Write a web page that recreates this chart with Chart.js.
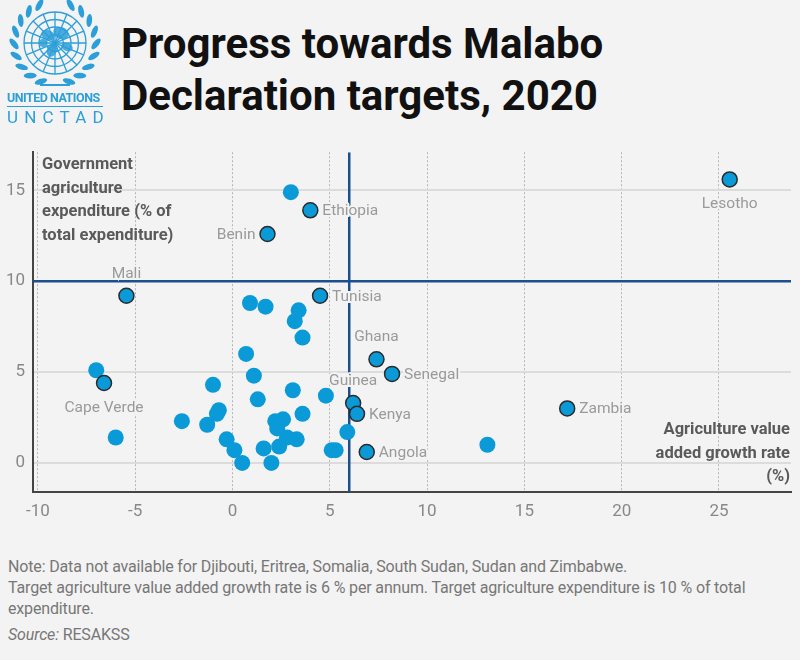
<!DOCTYPE html>
<html>
<head>
<meta charset="utf-8">
<script src="https://cdn.jsdelivr.net/npm/chart.js@4"></script>
<style>
  body { margin: 0; background: #f3f3f3; font-family: Roboto, "Noto Sans", sans-serif; }
  #page { position: relative; width: 800px; height: 660px; overflow: hidden; }
  #emblem { position: absolute; left: 0; top: 0; }
  #un1 { position: absolute; left: 7px; top: 90px; width: 96px; font-size: 12.5px; font-weight: bold; color: #2c9fd9; letter-spacing: -0.5px; border-bottom: 1px solid #2c9fd9; padding-bottom: 1px; white-space: nowrap; }
  #un2 { position: absolute; left: 7px; top: 107px; font-size: 17px; color: #2c9fd9; letter-spacing: 6.2px; }
  #title { position: absolute; left: 121px; top: 18px; font-size: 42px; font-weight: bold; line-height: 52px; color: #111; }
  #chartBox { position: absolute; left: 0; top: 134px; width: 800px; height: 396px; }
  #note { position: absolute; left: 8px; top: 556px; font-size: 16px; color: #777; line-height: 21px; letter-spacing: -0.15px; }
  #note .src { margin-top: 5px; }
</style>
</head>
<body>
<div id="page">
  <canvas id="emblem" width="112" height="92"></canvas>
  <div id="un1">UNITED NATIONS</div>
  <div id="un2">UNCTAD</div>
  <div id="title">Progress towards Malabo<br>Declaration targets, 2020</div>
  <div id="chartBox"><canvas id="myChart" width="800" height="396"></canvas></div>
  <div id="note">
    Note: Data not available for Djibouti, Eritrea, Somalia, South Sudan, Sudan and Zimbabwe.<br>
    Target agriculture value added growth rate is 6 % per annum. Target agriculture expenditure is 10 % of total<br>
    expenditure.
    <div class="src"><i>Source:</i> RESAKSS</div>
  </div>
</div>
<script>
// countries with a name on the chart
labelNames = ["Lesotho", "Ethiopia", "Benin", "Mali", "Tunisia", "Ghana", "Senegal", "Guinea", "Kenya", "Angola", "Zambia", "Cape Verde"];
labelGrowth = [25.55, 4.0, 1.8, -5.45, 4.5, 7.4, 8.2, 6.2, 6.4, 6.9, 17.2, -6.6];
labelExpend = [15.6, 13.9, 12.6, 9.2, 9.2, 5.7, 4.9, 3.3, 2.7, 0.6, 3.0, 4.4];

// other countries (no label)
otherGrowth = [3.0, 13.1, -7.0, -6.0, -2.6, -1.3, -1.0, 0.9, 1.7, 3.4, 3.2, 3.6, 0.7, 1.1, 1.3, 3.1, 4.8,
  -0.7, -0.8, 2.2, 2.6, 2.3, 2.8, 3.3, 2.4, 1.6, 2.0, 0.5, 0.1, -0.3, 3.6, 5.9, 5.1, 5.3];
otherExpend = [14.9, 1.0, 5.1, 1.4, 2.3, 2.1, 4.3, 8.8, 8.6, 8.4, 7.8, 6.9, 6.0, 4.8, 3.5, 4.0, 3.7,
  2.9, 2.7, 2.3, 2.4, 1.9, 1.4, 1.3, 0.9, 0.8, 0.0, 0.0, 0.7, 1.3, 2.7, 1.7, 0.7, 0.7];

targetGrowth = 6;
targetExpend = 10;

xTicks = [-10, -5, 0, 5, 10, 15, 20, 25];
yTicks = [0, 5, 10, 15];

// where the name goes relative to the dot
labelPlace = {
  "Lesotho": "below", "Ethiopia": "right", "Benin": "left", "Mali": "above", "Tunisia": "right",
  "Ghana": "above", "Senegal": "right", "Guinea": "above", "Kenya": "right", "Angola": "right",
  "Zambia": "right", "Cape Verde": "below"
};

const xMin = -10.25, xMax = 28.7, yMin = -1.6, yMax = 17.1;
const blue = "#0a9ad7";
const navy = "#1b4f8d";
const bg = "#f3f3f3";

function pts(xs, ys) {
  return xs.map((x, i) => ({ x: x, y: ys[i] }));
}

const namePlugin = {
  id: "names",
  afterDatasetsDraw(chart) {
    const ctx = chart.ctx;
    const meta = chart.getDatasetMeta(2);
    ctx.save();
    ctx.font = "15.5px Roboto";
    ctx.lineWidth = 4;
    ctx.strokeStyle = bg;
    ctx.fillStyle = "#9a9a9a";
    meta.data.forEach((el, i) => {
      const name = labelNames[i];
      const p = labelPlace[name];
      let x = el.x, y = el.y;
      if (p == "right") { ctx.textAlign = "left"; ctx.textBaseline = "middle"; x += 12; }
      if (p == "left") { ctx.textAlign = "right"; ctx.textBaseline = "middle"; x -= 12; }
      if (p == "above") { ctx.textAlign = "center"; ctx.textBaseline = "middle"; y -= 23; }
      if (p == "below") { ctx.textAlign = "center"; ctx.textBaseline = "middle"; y += 24; }
      ctx.strokeText(name, x, y + 1);
      ctx.fillText(name, x, y + 1);
    });
    ctx.restore();

    // axis titles inside the plot
    const a = chart.chartArea;
    ctx.save();
    ctx.font = "bold 16.5px Roboto";
    ctx.fillStyle = "#5a5a5a";
    ctx.textBaseline = "alphabetic";
    ctx.textAlign = "left";
    ["Government", "agriculture", "expenditure (% of", "total expenditure)"].forEach((t, i) => {
      ctx.fillText(t, a.left + 9, a.top + 17 + i * 23.5);
    });
    ctx.textAlign = "right";
    ["Agriculture value", "added growth rate", "(%)"].forEach((t, i) => {
      ctx.fillText(t, a.right - 1, a.top + 282 + i * 23.5);
    });
    ctx.restore();
  }
};

const ctx = document.getElementById("myChart");
Chart.defaults.font.family = "Roboto";
new Chart(ctx, {
  type: "scatter",
  data: {
    datasets: [
      {
        type: "line",
        data: [{ x: targetGrowth, y: yMin }, { x: targetGrowth, y: yMax }],
        borderColor: navy,
        borderWidth: 2.5,
        pointRadius: 0,
        order: 3,
      },
      {
        type: "line",
        data: [{ x: xMin, y: targetExpend }, { x: xMax, y: targetExpend }],
        borderColor: navy,
        borderWidth: 2.5,
        pointRadius: 0,
        order: 3,
      },
      {
        label: "named",
        data: pts(labelGrowth, labelExpend),
        backgroundColor: blue,
        borderColor: "#2b2b2b",
        borderWidth: 1.5,
        pointRadius: 7.5,
        order: 1,
      },
      {
        label: "other",
        data: pts(otherGrowth, otherExpend),
        backgroundColor: blue,
        borderWidth: 0,
        pointRadius: 8,
        order: 2,
      },
    ],
  },
  options: {
    responsive: false,
    animation: false,
    layout: { padding: { top: 4, right: 7, left: 0, bottom: 0 } },
    plugins: { legend: { display: false }, tooltip: { enabled: false } },
    scales: {
      x: {
        type: "linear",
        min: xMin,
        max: xMax,
        afterBuildTicks: (s) => { s.ticks = xTicks.map((v) => ({ value: v })); },
        afterFit: (s) => { s.height = 38; },
        grid: { color: "#b5b5b5", lineWidth: 1, drawTicks: false },
        border: { display: true, color: "#444", width: 2, dash: [2, 2] },
        ticks: { color: "#888", font: { size: 17 }, padding: 10, maxRotation: 0 },
      },
      y: {
        type: "linear",
        min: yMin,
        max: yMax,
        afterBuildTicks: (s) => { s.ticks = yTicks.map((v) => ({ value: v })); },
        afterFit: (s) => { s.width = 33; },
        grid: { color: "#dcdcdc", lineWidth: 2, drawTicks: false },
        border: { display: true, color: "#444", width: 2 },
        ticks: { color: "#888", font: { size: 17 }, padding: 8 },
      },
    },
  },
  plugins: [namePlugin],
});

// UN emblem, rough
(function () {
  const c = document.getElementById("emblem").getContext("2d");
  const cx = 55, cy = 43;
  c.strokeStyle = "#2c9fd9";
  c.fillStyle = "#2c9fd9";
  c.lineWidth = 1.3;
  [31, 23.5, 16, 8.5].forEach((r) => { c.beginPath(); c.arc(cx, cy, r, 0, Math.PI * 2); c.stroke(); });
  for (let k = 0; k < 8; k++) {
    const ang = (k * Math.PI) / 8;
    c.beginPath();
    c.moveTo(cx - 31 * Math.cos(ang), cy - 31 * Math.sin(ang));
    c.lineTo(cx + 31 * Math.cos(ang), cy + 31 * Math.sin(ang));
    c.stroke();
  }
  // continents blob
  c.globalAlpha = 0.85;
  [[48, 35, 7, 5], [61, 33, 8, 6], [52, 50, 5, 7], [67, 47, 6, 4], [43, 43, 4, 4]].forEach((b) => {
    c.beginPath(); c.ellipse(b[0], b[1], b[2], b[3], 0.4, 0, Math.PI * 2); c.fill();
  });
  c.globalAlpha = 1;
  // wreath leaves
  for (let side = -1; side <= 1; side += 2) {
    for (let k = 0; k < 9; k++) {
      const ang = Math.PI / 2 + side * (0.35 + k * 0.3);
      const x = cx + 41 * Math.cos(ang), y = cy + 41 * Math.sin(ang);
      c.beginPath();
      c.ellipse(x, y, 6.5, 2.8, ang + side * 0.9, 0, Math.PI * 2);
      c.fill();
    }
  }
  c.lineWidth = 2;
  c.beginPath(); c.moveTo(40, 85); c.lineTo(70, 85); c.stroke();
})();
</script>
</body>
</html>
